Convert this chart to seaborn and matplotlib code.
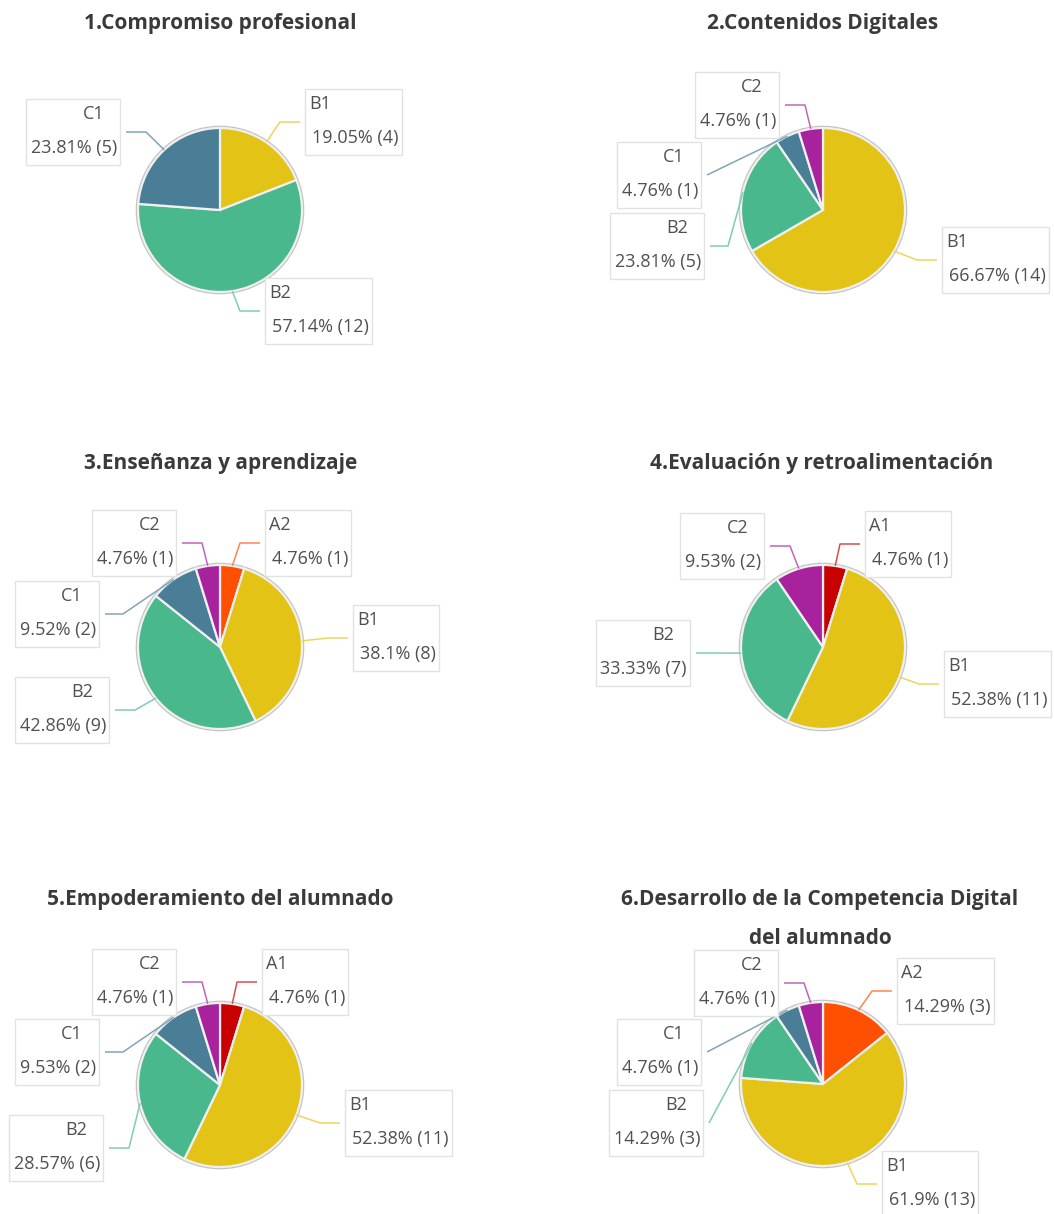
import numpy as np
import matplotlib
matplotlib.use("Agg")
import matplotlib.pyplot as plt
from matplotlib.patches import Rectangle, Circle
import seaborn as sns

# --- data ---
titles = ["1.Compromiso profesional", "2.Contenidos Digitales",
          "3.Enseñanza y aprendizaje", "4.Evaluación y retroalimentación",
          "5.Empoderamiento del alumnado",
          "6.Desarrollo de la Competencia Digital\ndel alumnado"]

levels_1 = ["B1", "B2", "C1"]
counts_1 = [4, 12, 5]
pcts_1 = ["19.05%", "57.14%", "23.81%"]

levels_2 = ["B1", "B2", "C1", "C2"]
counts_2 = [14, 5, 1, 1]
pcts_2 = ["66.67%", "23.81%", "4.76%", "4.76%"]

levels_3 = ["A2", "B1", "B2", "C1", "C2"]
counts_3 = [1, 8, 9, 2, 1]
pcts_3 = ["4.76%", "38.1%", "42.86%", "9.52%", "4.76%"]

levels_4 = ["A1", "B1", "B2", "C2"]
counts_4 = [1, 11, 7, 2]
pcts_4 = ["4.76%", "52.38%", "33.33%", "9.53%"]

levels_5 = ["A1", "B1", "B2", "C1", "C2"]
counts_5 = [1, 11, 6, 2, 1]
pcts_5 = ["4.76%", "52.38%", "28.57%", "9.53%", "4.76%"]

levels_6 = ["A2", "B1", "B2", "C1", "C2"]
counts_6 = [3, 13, 3, 1, 1]
pcts_6 = ["14.29%", "61.9%", "14.29%", "4.76%", "4.76%"]

level_colors = {"A1": "#C80000", "A2": "#FF4F00", "B1": "#E4C317",
                "B2": "#49B88C", "C1": "#4A7E97", "C2": "#A8229E"}

charts = [(levels_1, counts_1, pcts_1), (levels_2, counts_2, pcts_2),
          (levels_3, counts_3, pcts_3), (levels_4, counts_4, pcts_4),
          (levels_5, counts_5, pcts_5), (levels_6, counts_6, pcts_6)]

# --- layout (pixels, top-left origin) ---
W, H = 1054, 1214
R = 82
centers = [(220, 210), (823, 210), (220, 647), (823, 647), (220, 1085), (823, 1084)]
title_pos = [(220, 23), (823, 23), (221, 463), (822, 463), (220, 899), (820, 899)]
# side, box edge x (left edge for 'r', right edge for 'l'), box top y, horizontal leader length
boxes = [
    [("r", 305, 89, 20), ("r", 265, 278, 20), ("l", 120, 99, 20)],
    [("r", 942, 227, 20), ("l", 704, 213, 18), ("l", 701, 142, 0), ("l", 779, 72, 20)],
    [("r", 265, 510, 20), ("r", 353, 605, 20), ("l", 109, 677, 20), ("l", 99, 581, 18), ("l", 176, 510, 20)],
    [("r", 865, 511, 20), ("r", 944, 651, 20), ("l", 690, 620, 20), ("l", 764, 513, 20)],
    [("r", 262, 949, 20), ("r", 345, 1090, 20), ("l", 103, 1115, 20), ("l", 99, 1019, 18), ("l", 176, 949, 20)],
    [("r", 897, 958, 20), ("r", 882, 1151, 20), ("l", 703, 1090, 0), ("l", 701, 1019, 0), ("l", 778, 950, 20)],
]

sns.set_theme(style="white")
plt.rcParams["font.family"] = ["Open Sans", "DejaVu Sans"]

fig = plt.figure(figsize=(W / 100, H / 100), dpi=100)
ax = fig.add_axes([0, 0, 1, 1])
renderer = fig.canvas.get_renderer()

text_col = "#505050"
fs = 13.0


def lighten(c, amt=0.3):
    rgb = np.array(matplotlib.colors.to_rgb(c))
    return tuple(rgb + (1 - rgb) * amt)


for k, (levels, counts, pcts) in enumerate(charts):
    cx, cy = centers[k]
    pal = sns.color_palette([level_colors[l] for l in levels])
    ax.add_patch(Circle((cx, cy), R + 1.2, fill=False, ec="#c4c4c4", lw=1.6, zorder=0.5))
    ax.pie(counts, colors=pal, startangle=-90, counterclock=True, center=(cx, cy),
           radius=R, wedgeprops=dict(edgecolor="#f0f0f0", linewidth=1.6))

    total = sum(counts)
    cum = 0
    for i, (lev, n, p) in enumerate(zip(levels, counts, pcts)):
        ang = np.deg2rad(-90 + 360 * (cum + n / 2) / total)
        cum += n
        sx, sy = cx + R * np.cos(ang), cy + R * np.sin(ang)
        side, ex, top, hl = boxes[k][i]
        ly = top + 33
        value = f"{p} ({n})"
        if side == "r":
            t1 = ax.text(ex + 4, top + 15, lev, ha="left", va="center", fontsize=fs, color=text_col, zorder=4)
            t2 = ax.text(ex + 7, top + 49, value, ha="left", va="center", fontsize=fs, color=text_col, zorder=4)
            w = max(t1.get_window_extent(renderer).width + 4, t2.get_window_extent(renderer).width + 7) + 3
            x0 = ex
            end_x = ex - 5
            p1x = end_x - hl
        else:
            t1 = ax.text(ex - 16, top + 15, lev, ha="right", va="center", fontsize=fs, color=text_col, zorder=4)
            t2 = ax.text(ex - 3, top + 49, value, ha="right", va="center", fontsize=fs, color=text_col, zorder=4)
            w = max(t1.get_window_extent(renderer).width + 16, t2.get_window_extent(renderer).width + 3) + 5
            x0 = ex - w
            end_x = ex + 6
            p1x = end_x + hl
        ax.add_patch(Rectangle((x0, top), w, 66, fc="white", ec="#e2e2e2", lw=1.0, zorder=3))
        ax.plot([sx, p1x, end_x], [sy, ly, ly], color=lighten(level_colors[lev]), lw=1.1,
                zorder=2, solid_capstyle="butt")

    tx, ty = title_pos[k]
    for j, line in enumerate(titles[k].split("\n")):
        ax.text(tx, ty + 40 * j, line, ha="center", va="center", fontsize=15,
                fontweight="bold", color="#3a3a3a")

ax.set_xlim(0, W)
ax.set_ylim(H, 0)
ax.set_aspect("equal")
ax.axis("off")

fig.savefig("out.png", dpi=100, facecolor="white")
